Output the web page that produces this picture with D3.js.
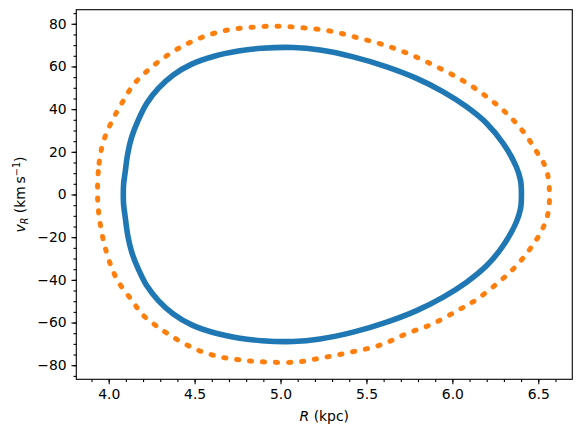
<!DOCTYPE html>
<html>
<head>
<meta charset="utf-8">
<script src="https://cdn.jsdelivr.net/npm/d3@7"></script>
<style>
body { margin: 0; background: #fff; }
text { font-family: "DejaVu Sans", sans-serif; fill: #000; }
</style>
</head>
<body>
<div id="chart"></div>
<script>
// inner orbit (blue), R (kpc) and vR (km/s), going round clockwise
var innerR = [4.085, 4.087, 4.095, 4.111, 4.134, 4.172, 4.221, 4.289, 4.376, 4.483, 4.619, 4.754, 4.890, 5.074, 5.230, 5.423, 5.618, 5.792, 5.947, 6.083, 6.200, 6.296, 6.372, 6.397, 6.402,
              6.397, 6.372, 6.296, 6.200, 6.083, 5.947, 5.792, 5.618, 5.423, 5.230, 5.074, 4.890, 4.754, 4.619, 4.483, 4.376, 4.289, 4.221, 4.172, 4.134, 4.111, 4.095, 4.087];
var innerV = [0, 5.0, 9.9, 19.2, 27.0, 34.9, 42.7, 49.7, 56.0, 61.1, 64.9, 67.2, 68.5, 68.9, 67.7, 64.5, 59.8, 54.4, 48.1, 41.1, 33.3, 23.9, 13.0, 6.5, 0,
              -6.5, -13.0, -23.9, -33.3, -41.1, -48.1, -54.4, -59.8, -64.5, -67.7, -68.9, -68.5, -67.2, -64.9, -61.1, -56.0, -49.7, -42.7, -34.9, -27.0, -19.2, -9.9, -5.0];

// outer orbit (orange)
var outerR = [3.935, 3.944, 3.969, 4.017, 4.076, 4.143, 4.230, 4.328, 4.434, 4.551, 4.687, 4.822, 4.978, 5.132, 5.288, 5.452, 5.618, 5.773, 5.928, 6.073, 6.200, 6.316, 6.413, 6.491, 6.545, 6.564,
              6.558, 6.520, 6.452, 6.364, 6.258, 6.132, 6.034, 5.889, 5.734, 5.579, 5.414, 5.249, 5.094, 4.919, 4.783, 4.648, 4.521, 4.405, 4.299, 4.201, 4.134, 4.056, 4.008, 3.969, 3.944];
var outerV = [0, 14.6, 24.7, 34.1, 42.7, 51.3, 58.3, 64.5, 69.7, 73.9, 77.0, 78.3, 78.9, 78.1, 76.6, 73.4, 69.7, 65.0, 59.1, 52.8, 45.8, 38.0, 29.4, 20.0, 12.2, 2.8,
              -8.3, -16.9, -25.5, -34.1, -41.9, -49.7, -54.2, -60.5, -65.2, -70.6, -73.8, -76.4, -78.5, -78.5, -77.7, -76.1, -73.0, -68.3, -62.8, -56.6, -49.5, -40.9, -32.3, -21.4, -10.0];

var xLimits = [3.8115, 6.698];
var yLimits = [-86.6, 86.6];
var xTicks = [4.0, 4.5, 5.0, 5.5, 6.0, 6.5];
var yTicks = [-80, -60, -40, -20, 0, 20, 40, 60, 80];
var xMinor = d3.range(39, 67).map(function(d) { return d / 10; });
var yMinor = d3.range(-85, 86, 5);

function draw() {
  var width = 581, height = 436;
  var pLeft = 76.3, pRight = 572.3, pTop = 9.7, pBottom = 379.3;

  var svg = d3.select("#chart").append("svg")
      .attr("width", width)
      .attr("height", height);

  var x = d3.scaleLinear().domain(xLimits).range([pLeft, pRight]);
  var y = d3.scaleLinear().domain(yLimits).range([pBottom, pTop]);

  var fmtMinus = function(d) { return d < 0 ? "\u2212" + Math.abs(d) : String(d); };

  // minor ticks
  svg.append("g")
      .attr("transform", "translate(0," + pBottom + ")")
      .call(d3.axisBottom(x).tickValues(xMinor).tickSize(2.78).tickFormat(""))
      .call(function(g) { g.select(".domain").remove(); });
  svg.append("g")
      .attr("transform", "translate(" + pLeft + ",0)")
      .call(d3.axisLeft(y).tickValues(yMinor).tickSize(2.78).tickFormat(""))
      .call(function(g) { g.select(".domain").remove(); });

  // major ticks
  var xAxis = svg.append("g")
      .attr("transform", "translate(0," + pBottom + ")")
      .call(d3.axisBottom(x).tickValues(xTicks).tickSize(4.86).tickPadding(4.86).tickFormat(d3.format(".1f")));
  var yAxis = svg.append("g")
      .attr("transform", "translate(" + pLeft + ",0)")
      .call(d3.axisLeft(y).tickValues(yTicks).tickSize(4.86).tickPadding(4.86).tickFormat(fmtMinus));

  [xAxis, yAxis].forEach(function(g) {
    g.select(".domain").remove();
    g.selectAll("text").attr("font-size", "13.9px").attr("font-family", "DejaVu Sans");
  });
  svg.selectAll(".tick line").attr("stroke", "#000").attr("stroke-width", 1.1);

  var line = d3.line()
      .x(function(d) { return x(d[0]); })
      .y(function(d) { return y(d[1]); })
      .curve(d3.curveCatmullRomClosed.alpha(0.5));

  var inner = d3.zip(innerR, innerV);
  var outer = d3.zip(outerR, outerV);

  svg.append("path")
      .datum(inner)
      .attr("d", line)
      .attr("fill", "none")
      .attr("stroke", "#1f77b4")
      .attr("stroke-width", 5.6);

  svg.append("path")
      .datum(outer)
      .attr("d", line)
      .attr("fill", "none")
      .attr("stroke", "#ff7f0e")
      .attr("stroke-width", 5)
      .attr("stroke-linecap", "round")
      .attr("stroke-dasharray", "2.2,10.8");

  // frame
  svg.append("rect")
      .attr("x", pLeft)
      .attr("y", pTop)
      .attr("width", pRight - pLeft)
      .attr("height", pBottom - pTop)
      .attr("fill", "none")
      .attr("stroke", "#000")
      .attr("stroke-width", 1.1);

  // axis labels
  var xl = svg.append("text")
      .attr("x", (pLeft + pRight) / 2)
      .attr("y", 421)
      .attr("text-anchor", "middle")
      .attr("font-size", "13.9px");
  xl.append("tspan").attr("font-style", "italic").text("R");
  xl.append("tspan").text(" (kpc)");

  var yl = svg.append("text")
      .attr("transform", "translate(25," + ((pTop + pBottom) / 2) + ") rotate(-90)")
      .attr("text-anchor", "middle")
      .attr("font-size", "13.9px");
  yl.append("tspan").attr("font-style", "italic").text("v");
  yl.append("tspan").attr("font-style", "italic").attr("font-size", "9.7px").attr("dy", 3).text("R");
  yl.append("tspan").attr("dy", -3).text(" (km\u2009s");
  yl.append("tspan").attr("font-size", "9.7px").attr("dy", -5.5).text("\u22121");
  yl.append("tspan").attr("dy", 5.5).text(")");
}

draw();
</script>
</body>
</html>
